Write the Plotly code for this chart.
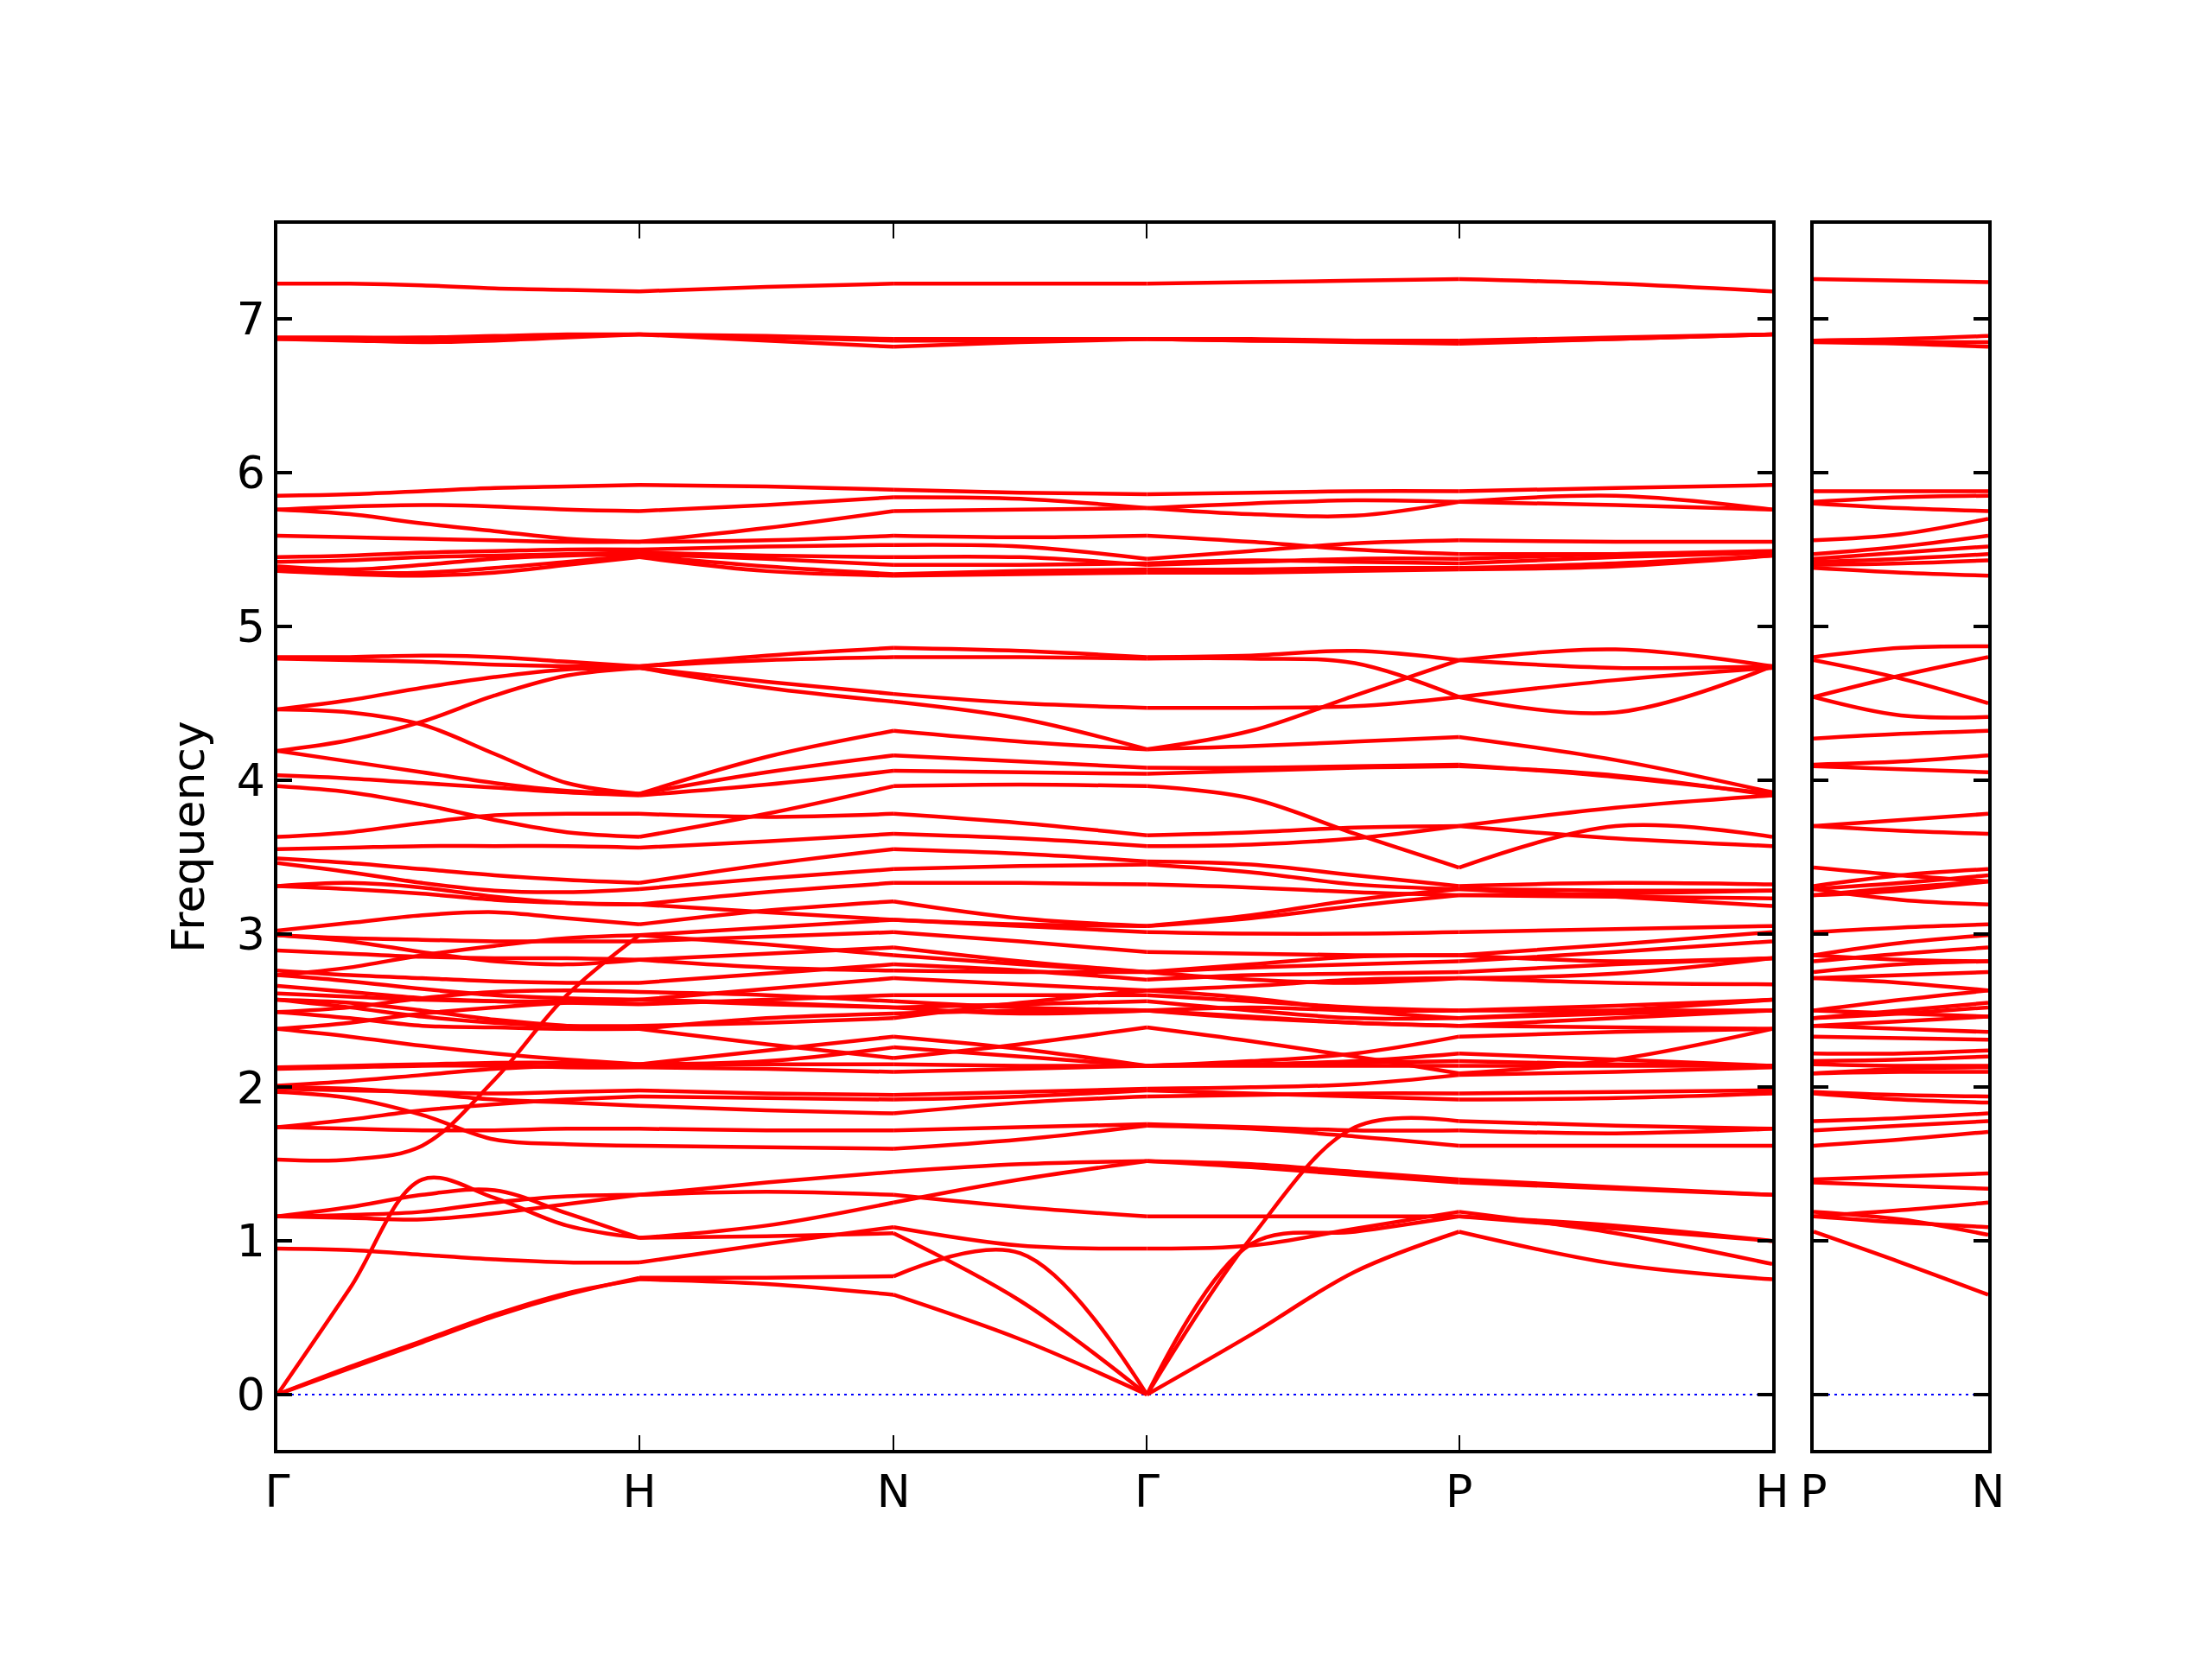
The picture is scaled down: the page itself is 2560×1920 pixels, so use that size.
import plotly.graph_objects as go

# ---------------- path definition ----------------
left_labels = ["Γ", "H", "N", "Γ", "P", "H"]
left_seg_len = [1.0, 0.702, 0.700, 0.862, 0.865]
left_seg_nodes = [6, 3, 3, 4, 3]
right_labels = ["P", "N"]
right_seg_len = [0.502]
right_seg_nodes = [3]

# ---------------- band values ----------------
# left: [Γ, .2, .4, .6, .8, H, HN, N, NΓ, Γ, ΓP1, ΓP2, P, PH, H]; right: [P, PN, N]
band_T1 = [7.23,7.23,7.22,7.20,7.19,7.18,7.21,7.23,7.23,7.23,7.24,7.25,7.26,7.23,7.18]; band_T1_r = [7.26,7.25,7.24]
band_T2 = [6.88,6.88,6.88,6.89,6.90,6.90,6.89,6.87,6.87,6.87,6.87,6.86,6.86,6.88,6.90]; band_T2_r = [6.86,6.87,6.89]
band_T3 = [6.87,6.86,6.85,6.86,6.88,6.90,6.86,6.82,6.85,6.87,6.86,6.85,6.84,6.87,6.90]; band_T3_r = [6.85,6.84,6.82]
band_T4 = [6.87,6.87,6.86,6.87,6.89,6.90,6.88,6.86,6.86,6.87,6.86,6.86,6.85,6.87,6.90]; band_T4_r = [6.86,6.85,6.85]

band_U1 = [5.85,5.86,5.88,5.90,5.91,5.92,5.91,5.89,5.87,5.86,5.87,5.88,5.88,5.90,5.92]; band_U1_r = [5.88,5.88,5.88]
band_U2 = [5.76,5.78,5.79,5.78,5.76,5.75,5.79,5.84,5.83,5.77,5.73,5.72,5.81,5.85,5.76]; band_U2_r = [5.81,5.84,5.85]
band_U3 = [5.76,5.73,5.67,5.62,5.57,5.55,5.64,5.75,5.76,5.77,5.80,5.82,5.81,5.79,5.76]; band_U3_r = [5.80,5.77,5.75]
band_U4 = [5.59,5.58,5.57,5.56,5.55,5.55,5.56,5.59,5.58,5.59,5.55,5.50,5.47,5.47,5.48]; band_U4_r = [5.56,5.60,5.70]
band_U5 = [5.45,5.46,5.48,5.49,5.50,5.50,5.52,5.53,5.52,5.44,5.49,5.54,5.56,5.55,5.55]; band_U5_r = [5.47,5.52,5.59]
band_U6 = [5.42,5.43,5.45,5.46,5.47,5.48,5.46,5.45,5.45,5.40,5.42,5.44,5.44,5.47,5.49]; band_U6_r = [5.44,5.48,5.52]
band_U7 = [5.39,5.37,5.40,5.44,5.46,5.47,5.44,5.40,5.40,5.41,5.43,5.42,5.41,5.45,5.48]; band_U7_r = [5.42,5.44,5.47]
band_U8 = [5.37,5.35,5.35,5.38,5.42,5.46,5.39,5.34,5.36,5.37,5.37,5.38,5.38,5.41,5.46]; band_U8_r = [5.40,5.41,5.43]
band_U9 = [5.36,5.34,5.33,5.35,5.40,5.45,5.36,5.33,5.34,5.35,5.35,5.36,5.37,5.39,5.46]; band_U9_r = [5.38,5.35,5.33]

band_V1 = [4.80,4.80,4.81,4.80,4.77,4.74,4.81,4.86,4.84,4.80,4.81,4.84,4.78,4.73,4.74]; band_V1_r = [4.80,4.86,4.87]
band_V2 = [4.79,4.78,4.77,4.75,4.74,4.74,4.78,4.80,4.80,4.79,4.79,4.76,4.54,4.44,4.74]; band_V2_r = [4.54,4.42,4.41]
band_V3 = [4.46,4.52,4.60,4.67,4.72,4.73,4.64,4.56,4.50,4.47,4.47,4.48,4.54,4.65,4.73]; band_V3_r = [4.54,4.68,4.80]
band_V4 = [4.19,4.26,4.38,4.55,4.68,4.73,4.60,4.51,4.40,4.20,4.32,4.55,4.78,4.85,4.74]; band_V4_r = [4.78,4.66,4.50]
band_V5 = [4.46,4.44,4.36,4.17,3.98,3.91,4.15,4.32,4.25,4.20,4.22,4.25,4.28,4.13,3.92]; band_V5_r = [4.27,4.30,4.32]
band_V6 = [4.19,4.12,4.05,3.98,3.93,3.91,4.05,4.16,4.12,4.08,4.08,4.09,4.10,4.02,3.91]; band_V6_r = [4.10,4.12,4.16]

band_W1 = [4.03,4.01,3.98,3.95,3.92,3.90,3.97,4.06,4.05,4.04,4.06,4.08,4.09,4.03,3.90]; band_W1_r = [4.09,4.07,4.05]
band_W2 = [3.96,3.92,3.84,3.74,3.66,3.63,3.78,3.96,3.97,3.96,3.88,3.65,3.43,3.70,3.63]; band_W2_r = [3.43,3.38,3.34]
band_W3 = [3.63,3.66,3.72,3.77,3.78,3.78,3.76,3.78,3.72,3.64,3.66,3.69,3.70,3.82,3.90]; band_W3_r = [3.70,3.74,3.78]
band_W4 = [3.55,3.56,3.57,3.57,3.57,3.56,3.60,3.65,3.62,3.57,3.58,3.62,3.70,3.62,3.57]; band_W4_r = [3.70,3.67,3.65]
band_W5 = [3.49,3.46,3.42,3.38,3.35,3.33,3.45,3.55,3.52,3.47,3.45,3.38,3.31,3.33,3.32]; band_W5_r = [3.31,3.38,3.42]
band_W6 = [3.46,3.40,3.33,3.28,3.27,3.29,3.36,3.42,3.44,3.45,3.40,3.32,3.29,3.28,3.28]; band_W6_r = [3.29,3.33,3.38]
band_W7 = [3.31,3.29,3.26,3.22,3.20,3.19,3.27,3.33,3.33,3.32,3.30,3.27,3.25,3.24,3.23]; band_W7_r = [3.25,3.30,3.34]
band_W8 = [3.02,3.07,3.12,3.14,3.10,3.06,3.15,3.21,3.10,3.05,3.12,3.22,3.29,3.24,3.18]; band_W8_r = [3.29,3.22,3.19]
band_W10 = [2.99,2.97,2.96,2.95,2.95,2.95,2.98,3.01,2.95,2.88,2.87,2.86,2.86,2.93,3.01]; band_W10_r = [2.86,2.94,2.99]
band_W11 = [2.89,2.87,2.85,2.84,2.84,2.83,2.87,2.91,2.82,2.75,2.78,2.80,2.82,2.88,2.95]; band_W11_r = [2.82,2.87,2.91]
band_W12 = [2.76,2.73,2.71,2.69,2.68,2.68,2.74,2.80,2.76,2.70,2.73,2.74,2.75,2.80,2.84]; band_W12_r = [2.75,2.80,2.82]
band_W13 = [2.73,2.69,2.64,2.60,2.58,2.57,2.64,2.71,2.67,2.63,2.66,2.70,2.71,2.68,2.67]; band_W13_r = [2.71,2.73,2.75]
band_W14 = [2.66,2.62,2.58,2.56,2.55,2.54,2.57,2.60,2.60,2.60,2.56,2.52,2.50,2.53,2.57]; band_W14_r = [2.50,2.57,2.63]
band_W15 = [2.61,2.59,2.57,2.56,2.56,2.57,2.55,2.52,2.54,2.56,2.50,2.45,2.45,2.48,2.50]; band_W15_r = [2.45,2.50,2.55]
band_W16 = [2.57,2.55,2.50,2.44,2.40,2.38,2.45,2.48,2.50,2.50,2.45,2.42,2.40,2.39,2.38]; band_W16_r = [2.40,2.43,2.46]
band_W17 = [2.49,2.45,2.40,2.39,2.38,2.38,2.28,2.19,2.28,2.39,2.30,2.20,2.09,2.18,2.38]; band_W17_r = [2.09,2.12,2.13]
band_W18 = [2.38,2.33,2.27,2.22,2.18,2.15,2.24,2.33,2.25,2.14,2.17,2.22,2.33,2.36,2.38]; band_W18_r = [2.33,2.32,2.31]
band_W19 = [2.12,2.13,2.14,2.14,2.13,2.13,2.12,2.10,2.12,2.14,2.15,2.17,2.22,2.18,2.14]; band_W19_r = [2.22,2.22,2.24]
band_W20 = [2.13,2.14,2.15,2.16,2.16,2.15,2.17,2.26,2.20,2.14,2.15,2.16,2.17,2.15,2.14]; band_W20_r = [2.17,2.18,2.20]

band_X1 = [2.57,2.52,2.46,2.42,2.40,2.40,2.42,2.45,2.55,2.63,2.58,2.50,2.45,2.50,2.57]; band_X1_r = [2.45,2.48,2.52]
band_X2 = [2.49,2.52,2.58,2.62,2.63,2.62,2.60,2.56,2.52,2.50,2.46,2.42,2.40,2.45,2.50]; band_X2_r = [2.40,2.38,2.36]
band_X3 = [2.73,2.78,2.86,2.92,2.97,2.99,2.93,2.86,2.80,2.75,2.70,2.68,2.71,2.74,2.84]; band_X3_r = [2.71,2.68,2.63]
band_X4 = [3.31,3.33,3.30,3.24,3.20,3.19,3.14,3.09,3.06,3.05,3.10,3.18,3.25,3.26,3.28]; band_X4_r = [3.25,3.28,3.34]
band_X5 = [2.99,2.95,2.88,2.82,2.80,2.83,2.78,2.76,2.75,2.75,2.80,2.85,2.86,2.82,2.84]; band_X5_r = [2.86,2.83,2.82]
band_X6 = [2.38,2.42,2.48,2.52,2.55,2.57,2.54,2.52,2.48,2.50,2.52,2.50,2.50,2.50,2.50]; band_X6_r = [2.50,2.48,2.46]

band_TA = [0,0.18,0.35,0.52,0.66,0.75,0.72,0.65,0.36,0,0.39,0.80,1.06,0.85,0.75]; band_TA_r = [1.06,0.86,0.65]
band_TA2 = [0,0.17,0.34,0.51,0.65,0.76,0.76,0.77,0.92,0,0.98,1.06,1.16,1.10,1.00]; band_TA2_r = [1.16,1.12,1.09]
band_LA1 = [0,0.69,1.40,1.28,1.10,1.02,1.10,1.25,1.40,1.52,1.50,1.45,1.40,1.35,1.30]; band_LA1_r = [1.40,1.42,1.44]
band_LA2 = [1.16,1.22,1.30,1.33,1.18,1.02,1.03,1.05,0.61,0,1.02,1.74,1.78,1.75,1.73]; band_LA2_r = [1.78,1.80,1.83]
band_L1 = [0.95,0.94,0.91,0.88,0.86,0.86,0.98,1.09,0.97,0.95,0.97,1.08,1.19,1.05,0.85]; band_L1_r = [1.19,1.14,1.04]
band_L3 = [1.16,1.15,1.14,1.18,1.24,1.30,1.32,1.30,1.22,1.16,1.16,1.16,1.16,1.08,1.00]; band_L3_r = [1.16,1.20,1.25]
band_L4 = [1.53,1.53,1.62,2.05,2.60,2.99,3.04,3.09,3.05,3.01,3.00,3.00,3.01,3.03,3.05]; band_L4_r = [3.01,3.04,3.06]
band_L12 = [1.16,1.17,1.19,1.25,1.29,1.30,1.38,1.45,1.50,1.52,1.48,1.43,1.38,1.34,1.30]; band_L12_r = [1.38,1.36,1.34]
band_L5 = [1.74,1.79,1.85,1.89,1.92,1.94,1.93,1.92,1.94,1.98,1.96,1.94,1.92,1.93,1.96]; band_L5_r = [1.97,1.95,1.94]
band_L6 = [1.74,1.73,1.72,1.72,1.73,1.73,1.72,1.72,1.74,1.76,1.74,1.72,1.72,1.70,1.73]; band_L6_r = [1.72,1.75,1.78]
band_L7 = [1.97,1.93,1.82,1.66,1.63,1.62,1.61,1.60,1.66,1.75,1.73,1.68,1.62,1.62,1.62]; band_L7_r = [1.62,1.66,1.71]
band_L8 = [1.99,1.98,1.97,1.96,1.97,1.98,1.96,1.95,1.97,1.99,2.00,2.02,2.08,2.10,2.13]; band_L8_r = [2.09,2.10,2.10]
band_L9 = [2.01,2.04,2.08,2.12,2.14,2.15,2.15,2.15,2.14,2.14,2.14,2.14,2.14,2.14,2.14]; band_L9_r = [2.15,2.14,2.14]
band_L13 = [2.00,1.99,1.96,1.92,1.90,1.88,1.85,1.83,1.90,1.94,1.95,1.96,1.96,1.97,1.98]; band_L13_r = [1.96,1.92,1.90]

bands = [
    (band_T1, band_T1_r), (band_T2, band_T2_r), (band_T3, band_T3_r), (band_T4, band_T4_r),
    (band_U1, band_U1_r), (band_U2, band_U2_r), (band_U3, band_U3_r), (band_U4, band_U4_r),
    (band_U5, band_U5_r), (band_U6, band_U6_r), (band_U7, band_U7_r), (band_U8, band_U8_r),
    (band_U9, band_U9_r),
    (band_V1, band_V1_r), (band_V2, band_V2_r), (band_V3, band_V3_r), (band_V4, band_V4_r),
    (band_V5, band_V5_r), (band_V6, band_V6_r),
    (band_W1, band_W1_r), (band_W2, band_W2_r), (band_W3, band_W3_r), (band_W4, band_W4_r),
    (band_W5, band_W5_r), (band_W6, band_W6_r), (band_W7, band_W7_r), (band_W8, band_W8_r),
    (band_W10, band_W10_r), (band_W11, band_W11_r), (band_W12, band_W12_r), (band_W13, band_W13_r),
    (band_W14, band_W14_r), (band_W15, band_W15_r), (band_W16, band_W16_r), (band_W17, band_W17_r),
    (band_W18, band_W18_r), (band_W19, band_W19_r), (band_W20, band_W20_r),
    (band_X1, band_X1_r), (band_X2, band_X2_r), (band_X3, band_X3_r), (band_X4, band_X4_r),
    (band_X5, band_X5_r), (band_X6, band_X6_r),
    (band_TA, band_TA_r), (band_TA2, band_TA2_r), (band_LA1, band_LA1_r), (band_LA2, band_LA2_r),
    (band_L1, band_L1_r), (band_L3, band_L3_r), (band_L4, band_L4_r), (band_L12, band_L12_r),
    (band_L5, band_L5_r), (band_L6, band_L6_r), (band_L7, band_L7_r), (band_L8, band_L8_r),
    (band_L9, band_L9_r), (band_L13, band_L13_r),
]


def path_xy(vals, seg_len, seg_nodes, xs, ys):
    start = 0.0
    idx = 0
    for L, n in zip(seg_len, seg_nodes):
        seg = vals[idx: idx + n]
        for j, v in enumerate(seg):
            xs.append(start + L * j / (n - 1))
            ys.append(v)
        xs.append(None)
        ys.append(None)
        idx += n - 1
        start += L


def ticks_of(seg_len):
    t = [0.0]
    for L in seg_len:
        t.append(t[-1] + L)
    return t


left_ticks = ticks_of(left_seg_len)
right_ticks = ticks_of(right_seg_len)

lx, ly, rx, ry = [], [], [], []
for lv, rv in bands:
    path_xy(lv, left_seg_len, left_seg_nodes, lx, ly)
    path_xy(rv, right_seg_len, right_seg_nodes, rx, ry)

fig = go.Figure()

# zero line (blue dotted)
fig.add_trace(go.Scatter(x=[left_ticks[0], left_ticks[-1]], y=[0, 0], mode="lines",
                         line=dict(color="blue", width=2, dash="3px,5px"),
                         xaxis="x", yaxis="y", hoverinfo="skip", showlegend=False))
fig.add_trace(go.Scatter(x=[right_ticks[0], right_ticks[-1]], y=[0, 0], mode="lines",
                         line=dict(color="blue", width=2, dash="3px,5px"),
                         xaxis="x2", yaxis="y2", hoverinfo="skip", showlegend=False))

fig.add_trace(go.Scatter(x=lx, y=ly, mode="lines",
                         line=dict(color="#ff0000", width=4.5, shape="spline", smoothing=1.0),
                         xaxis="x", yaxis="y", showlegend=False))
fig.add_trace(go.Scatter(x=rx, y=ry, mode="lines",
                         line=dict(color="#ff0000", width=4.5, shape="spline", smoothing=1.0),
                         xaxis="x2", yaxis="y2", showlegend=False))

font_family = "DejaVu Sans"
tick_font = dict(family=font_family, size=52, color="black")
ydom = [0.13021, 0.86927]
yrange = [-0.36, 7.62]

common_x = dict(ticks="inside", ticklen=17, tickwidth=2, tickcolor="black",
                showline=True, linewidth=3.5, linecolor="black", mirror="ticks",
                showgrid=False, zeroline=False, tickfont=tick_font, automargin=False)
common_y = dict(ticks="inside", ticklen=17, tickwidth=3.5, tickcolor="black",
                showline=True, linewidth=3.5, linecolor="black", mirror="ticks",
                showgrid=False, zeroline=False, tickfont=tick_font, automargin=False,
                range=yrange, domain=ydom, tickvals=list(range(0, 8)))

fig.update_layout(
    width=2560, height=1920,
    margin=dict(l=0, r=0, t=0, b=0),
    paper_bgcolor="white", plot_bgcolor="white",
    font=dict(family=font_family, color="black"),
    xaxis=dict(domain=[0.12227, 0.79805], range=[left_ticks[0], left_ticks[-1]],
               tickvals=left_ticks, ticktext=left_labels, anchor="y", **common_x),
    xaxis2=dict(domain=[0.81680, 0.89570], range=[right_ticks[0], right_ticks[-1]],
                tickvals=right_ticks, ticktext=right_labels, anchor="y2", **common_x),
    yaxis=dict(anchor="x", title=dict(text="Frequency", font=tick_font, standoff=22), **common_y),
    yaxis2=dict(anchor="x2", showticklabels=False, **common_y),
)

fig.write_html("out.html")
